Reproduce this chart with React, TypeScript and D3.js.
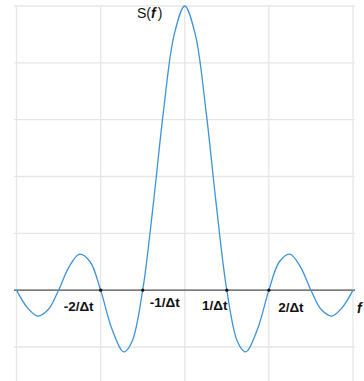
import React from "react";
import * as d3 from "d3";

// Sample positions in units of 1/Δt and read-off amplitudes of S(f)
const fValues = [
  -4, -3.75, -3.5, -3.25, -3, -2.75, -2.5, -2.25, -2, -1.75, -1.5, -1.43, -1.25, -1, -0.75, -0.5, -0.25,
  0, 0.25, 0.5, 0.75, 1, 1.25, 1.43, 1.5, 1.75, 2, 2.25, 2.5, 2.75, 3, 3.25, 3.5, 3.75, 4,
];
const sValues = [
  0, -0.06, -0.091, -0.069, 0, 0.082, 0.127, 0.1, 0, -0.129, -0.212, -0.217, -0.18, 0, 0.3, 0.637, 0.9,
  1, 0.9, 0.637, 0.3, 0, -0.18, -0.217, -0.212, -0.129, 0, 0.1, 0.127, 0.082, 0, -0.069, -0.091, -0.06, 0,
];
const zeroMarks = [-2, -1, 1, 2];
const tickLabels = ["-2/Δt", "-1/Δt", "1/Δt", "2/Δt"];
const gridX = [-4, -2, 0, 2, 4];
const gridY = [-0.2, 0, 0.2, 0.4, 0.6, 0.8, 1.0];

const W = 364;
const H = 381;

export default function App() {
  const x = d3.scaleLinear().domain([-4, 4]).range([16.5, 353]);
  const y = d3.scaleLinear().domain([-0.2, 1]).range([347, 6]);
  const pts: [number, number][] = fValues.map((f, i) => [f, sValues[i]]);
  const line = d3
    .line<[number, number]>()
    .x((d) => x(d[0]))
    .y((d) => y(d[1]))
    .curve(d3.curveCatmullRom.alpha(0.5));

  // label offsets (dx, baseline)
  const labelPos = [
    { dx: -22, by: 311 },
    { dx: 22, by: 307 },
    { dx: -12, by: 310 },
    { dx: 22, by: 312 },
  ];

  return (
    <svg
      width={W}
      height={H}
      style={{ position: "absolute", left: 0, top: 0, background: "#fff" }}
      fontFamily="Arial, 'Liberation Sans', sans-serif"
    >
      {gridY.map((v) => (
        <line key={"gy" + v} x1={14} x2={355} y1={y(v)} y2={y(v)} stroke="#e6e6e6" strokeWidth={1.3} />
      ))}
      {gridX.map((v) => (
        <line key={"gx" + v} x1={x(v)} x2={x(v)} y1={y(1)} y2={H} stroke="#e6e6e6" strokeWidth={1.3} />
      ))}
      <line x1={14} x2={355} y1={y(0)} y2={y(0)} stroke="#555" strokeWidth={1.3} />
      <path d={line(pts) || ""} fill="none" stroke="#3f93d8" strokeWidth={1.3} />
      {zeroMarks.map((v) => (
        <circle key={"z" + v} cx={x(v)} cy={y(0)} r={1.6} fill="#111" />
      ))}
      {zeroMarks.map((v, i) => (
        <text
          key={"t" + v}
          x={x(v) + labelPos[i].dx}
          y={labelPos[i].by}
          textAnchor="middle"
          fontSize={13.5}
          fontWeight="bold"
          fill="#111"
        >
          {tickLabels[i]}
        </text>
      ))}
      <text x={137} y={18} fontSize={14} fill="#111">
        S(<tspan fontStyle="italic" fontWeight="bold">f</tspan>
        <tspan dx={2}>)</tspan>
      </text>
      <text x={357} y={313} fontSize={14} fontStyle="italic" fontWeight="bold" fill="#111">
        f
      </text>
    </svg>
  );
}
